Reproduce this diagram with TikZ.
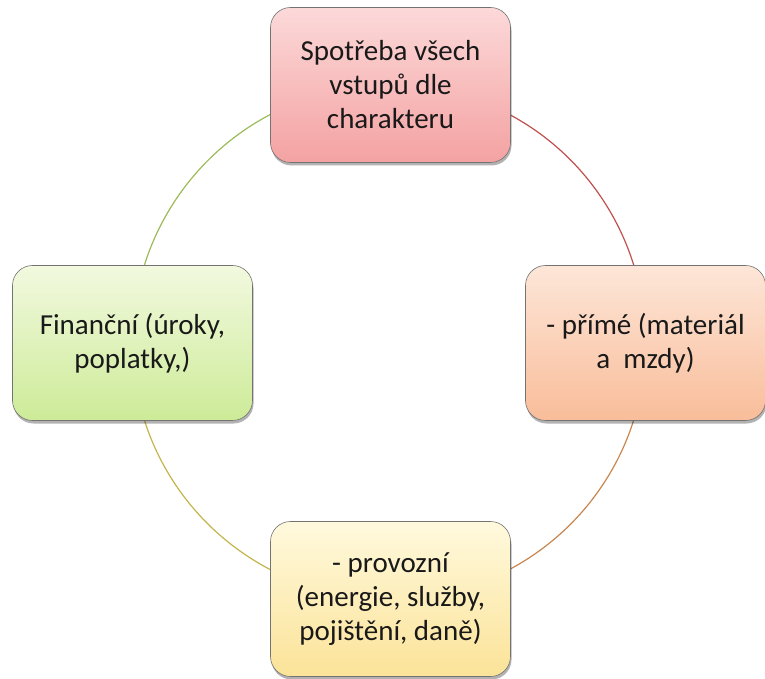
\documentclass[tikz,border=0pt]{standalone}
\usepackage{fontspec}
\setmainfont{Carlito}
\usetikzlibrary{shadows,backgrounds}
\definecolor{arcred}{HTML}{C0504D}
\definecolor{arcorange}{HTML}{C8864E}
\definecolor{arcyellow}{HTML}{C4B44C}
\definecolor{arcgreen}{HTML}{9BBB59}
\definecolor{redtop}{HTML}{FCD9D9}
\definecolor{redbot}{HTML}{F4A2A2}
\definecolor{ortop}{HTML}{FDE6D8}
\definecolor{orbot}{HTML}{F9BD9A}
\definecolor{grtop}{HTML}{F2F9DF}
\definecolor{grbot}{HTML}{CDEB98}
\definecolor{yetop}{HTML}{FFF9DD}
\definecolor{yebot}{HTML}{FBE398}
\begin{document}
\begin{tikzpicture}[x=1pt,y=1pt,
  box/.style={draw=black!55, line width=0.6pt, rounded corners=20pt,
    minimum width=240pt, minimum height=155pt, align=center,
    font=\fontsize{29}{34}\selectfont, text=black!90,
    drop shadow={shadow xshift=1pt, shadow yshift=-3pt, opacity=0.3, fill=black}},
  arcline/.style={line width=1.2pt}]
\useasboundingbox (0,0) rectangle (765,678);
\node[box, top color=redtop, bottom color=redbot] (a) at (390.5,593) {Spotřeba všech\\vstupů dle\\charakteru};
\node[box, top color=ortop, bottom color=orbot] (b) at (645.5,335) {- přímé (materiál\\a\ \ mzdy)};
\node[box, top color=yetop, bottom color=yebot] (d) at (390.5,79) {- provozní\\(energie, služby,\\pojištění, daně)};
\node[box, top color=grtop, bottom color=grbot] (c) at (132.5,335) {Finanční (úroky,\\poplatky,)};
\begin{scope}[on background layer]
\draw[arcline, draw=arcred] (a.center) to[out=0,in=90] (b.center);
\draw[arcline, draw=arcorange] (b.center) to[out=-90,in=0] (d.center);
\draw[arcline, draw=arcyellow] (d.center) to[out=180,in=-90] (c.center);
\draw[arcline, draw=arcgreen] (c.center) to[out=90,in=180] (a.center);
\end{scope}
\end{tikzpicture}
\end{document}
